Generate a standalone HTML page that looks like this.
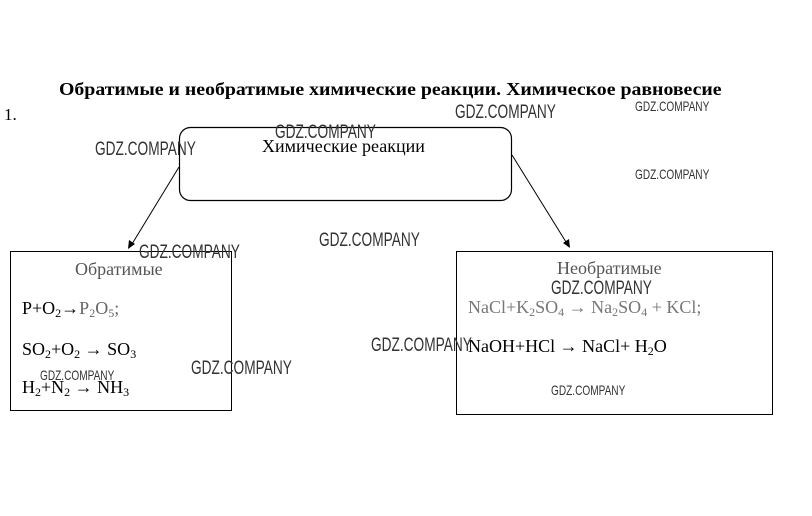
<!DOCTYPE html>
<html><head><meta charset="utf-8"><style>
body{margin:0;width:812px;height:516px;background:#fff;position:relative;overflow:hidden;font-family:"Liberation Serif",serif;color:#000}
.a{position:absolute;white-space:nowrap}
.w{position:absolute;white-space:nowrap;font-family:"Liberation Sans",sans-serif;color:#333;transform-origin:0 0;transform:scaleX(0.72)}
.f{font-size:18px}
sub{font-size:12px;vertical-align:-3px}
</style></head><body>
<div class="a" style="left:59px;top:79px;font-size:18px;font-weight:bold;transform-origin:0 0;transform:scaleX(1.1)">Обратимые и необратимые химические реакции. Химическое равновесие</div>
<div class="a" style="left:4px;top:105px;font-size:17px">1.</div>

<svg width="812" height="516" style="position:absolute;left:0;top:0">
<rect x="179.5" y="127.5" width="332" height="73" rx="11" fill="none" stroke="#000" stroke-width="1.2"/>
<rect x="10.5" y="251.5" width="221" height="159" fill="none" stroke="#000"/>
<rect x="456.5" y="251.5" width="316" height="163" fill="none" stroke="#000"/>
<line x1="179" y1="167" x2="132" y2="244" stroke="#000"/>
<polygon points="128,249 129,240 135,244" fill="#000"/>
<line x1="512" y1="155" x2="566" y2="242" stroke="#000"/>
<polygon points="570,248 563,243 569,239" fill="#000"/>
</svg>

<div class="a" style="left:262px;top:136px;font-size:18px">Химические реакции</div>
<div class="a f" style="left:75px;top:259px;color:#555">Обратимые</div>
<div class="a f" style="left:22px;top:298px">P+O<sub>2</sub>→<span style="color:#666">P<sub>2</sub>O<sub>5</sub>;</span></div>
<div class="a f" style="left:22px;top:339px">SO<sub>2</sub>+O<sub>2</sub> → SO<sub>3</sub></div>
<div class="a f" style="left:22px;top:377px">H<sub>2</sub>+N<sub>2</sub> → NH<sub>3</sub></div>

<div class="a f" style="left:557px;top:258px;color:#555">Необратимые</div>
<div class="a f" style="left:468px;top:297px;color:#777">NaCl+K<sub>2</sub>SO<sub>4</sub> → Na<sub>2</sub>SO<sub>4</sub> + KCl;</div>
<div class="a f" style="left:468px;top:336px">NaOH+HCl → NaCl+ H<sub>2</sub>O</div>

<div class="w" style="left:455px;top:102px;font-size:19px">GDZ.COMPANY</div>
<div class="w" style="left:635px;top:98px;font-size:14px">GDZ.COMPANY</div>
<div class="w" style="left:275px;top:122px;font-size:19px">GDZ.COMPANY</div>
<div class="w" style="left:95px;top:139px;font-size:19px">GDZ.COMPANY</div>
<div class="w" style="left:635px;top:166px;font-size:14px">GDZ.COMPANY</div>
<div class="w" style="left:139px;top:242px;font-size:19px">GDZ.COMPANY</div>
<div class="w" style="left:319px;top:230px;font-size:19px">GDZ.COMPANY</div>
<div class="w" style="left:551px;top:278px;font-size:19px">GDZ.COMPANY</div>
<div class="w" style="left:371px;top:335px;font-size:19px">GDZ.COMPANY</div>
<div class="w" style="left:191px;top:358px;font-size:19px">GDZ.COMPANY</div>
<div class="w" style="left:40px;top:367px;font-size:14px">GDZ.COMPANY</div>
<div class="w" style="left:551px;top:382px;font-size:14px">GDZ.COMPANY</div>
</body></html>
